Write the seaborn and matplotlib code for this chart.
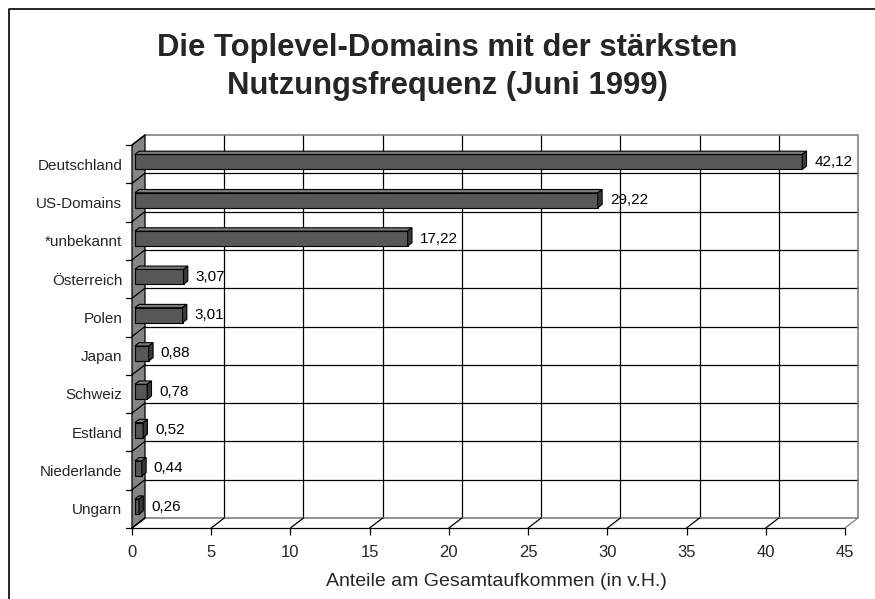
import numpy as np
import pandas as pd
import seaborn as sns
import matplotlib.pyplot as plt
from matplotlib.transforms import Affine2D, IdentityTransform
from matplotlib.patches import Polygon
from matplotlib.lines import Line2D

# data
laender = ["Deutschland", "US-Domains", "*unbekannt", "Österreich", "Polen",
           "Japan", "Schweiz", "Estland", "Niederlande", "Ungarn"]
anteile = [42.12, 29.22, 17.22, 3.07, 3.01, 0.88, 0.78, 0.52, 0.44, 0.26]
x_ticks = [0, 5, 10, 15, 20, 25, 30, 35, 40, 45]

df = pd.DataFrame({"land": laender, "anteil": anteile})

sns.set_theme(style="white")
plt.rcParams["font.family"] = ["Liberation Sans", "DejaVu Sans"]

W, H = 875, 599
fig = plt.figure(figsize=(W / 100, H / 100), dpi=100)
# front plane of the plot area in pixels
x0, x1, ytop, ybot = 132, 845, 145, 528
ax = fig.add_axes([x0 / W, (H - ybot) / H, (x1 - x0) / W, (ybot - ytop) / H])

# 3d depth of the wall in pixels (right, up)
DX, DY = 13, 10
F1, F2 = 0.22, 0.55   # bar front / back depth as fraction of the wall
PIX = IdentityTransform()


def shifted(f):
    return ax.transData + Affine2D().translate(DX * f, DY * f)


def pix_line(a, b, color="black", lw=0.9, z=3):
    ax.add_line(Line2D([a[0], b[0]], [a[1], b[1]], color=color, lw=lw,
                       transform=PIX, clip_on=False, zorder=z))


sns.barplot(data=df, x="anteil", y="land", orient="h", width=0.39,
            color="#575757", edgecolor="black", linewidth=0.8, ax=ax,
            zorder=5)
ax.set_xlim(0, 45)
ax.set_ylim(len(laender) - 0.5, -0.5)

back = shifted(1.0)
lo, hi = -0.5, len(laender) - 0.5

# back wall: grid and border
for xt in x_ticks[1:-1]:
    ax.add_line(Line2D([xt, xt], [lo, hi], color="black", lw=0.9,
                       transform=back, clip_on=False, zorder=1))
for yb in np.arange(lo + 1, hi, 1.0):
    ax.add_line(Line2D([0, 45], [yb, yb], color="black", lw=0.9,
                       transform=back, clip_on=False, zorder=1))
ax.add_line(Line2D([0, 45, 45, 0], [lo, lo, hi, hi], color="#808080",
                   lw=1.2, transform=back, clip_on=False, zorder=1))

# left wall
pts_front = ax.transData.transform([(0, lo), (0, hi)])
pts_back = back.transform([(0, hi), (0, lo)])
ax.add_patch(Polygon(np.vstack([pts_front, pts_back]), closed=True,
                     facecolor="#858585", edgecolor="black", lw=0.9,
                     transform=PIX, clip_on=False, zorder=2))
for yb in np.arange(lo, hi + 1, 1.0):
    a = ax.transData.transform((0, yb))
    b = back.transform((0, yb))
    pix_line(a, b)
    pix_line((a[0] - 6, a[1]), a)

# floor: diagonal tick lines
for xt in x_ticks:
    a = ax.transData.transform((xt, hi))
    b = back.transform((xt, hi))
    pix_line(a, b, color="black" if xt < 45 else "#808080")

# 3d bars
for p, v in zip(ax.patches, anteile):
    yb, h = p.get_y(), p.get_height()
    p.set_transform(shifted(F1))
    p.set_clip_on(False)
    f = np.array(shifted(F1).transform([(0, yb), (v, yb)]))
    g = np.array(shifted(F2).transform([(v, yb), (0, yb)]))
    ax.add_patch(Polygon(np.vstack([f, g]), closed=True, transform=PIX,
                         facecolor="#7c7c7c", edgecolor="black", lw=0.8,
                         clip_on=False, zorder=6))
    s1 = np.array(shifted(F1).transform([(v, yb), (v, yb + h)]))
    s2 = np.array(shifted(F2).transform([(v, yb + h), (v, yb)]))
    ax.add_patch(Polygon(np.vstack([s1, s2]), closed=True, transform=PIX,
                         facecolor="#3a3a3a", edgecolor="black", lw=0.8,
                         clip_on=False, zorder=6))
    lbl = ("%.2f" % v).replace(".", ",")
    ax.annotate(lbl, xy=(v, yb + h / 2), xycoords=shifted(F1),
                xytext=(12, 0), textcoords="offset pixels",
                ha="left", va="center", fontsize=11, color="black",
                annotation_clip=False, zorder=7)

# axes styling
for s in ["top", "right", "left"]:
    ax.spines[s].set_visible(False)
ax.spines["bottom"].set_color("black")
ax.spines["bottom"].set_linewidth(0.9)
ax.set_xticks(x_ticks)
ax.set_xticklabels([str(t) for t in x_ticks], fontsize=12)
ax.tick_params(axis="x", direction="out", length=5, width=0.9,
               color="black", pad=7, bottom=True)
ax.tick_params(axis="y", length=0, pad=7, labelsize=11)
ax.set_ylabel("")
ax.set_xlabel("Anteile am Gesamtaufkommen (in v.H.)", fontsize=14)
ax.xaxis.set_label_coords((496 - x0) / (x1 - x0), -(582 - ybot) / (ybot - ytop))
ax.xaxis.label.set_va("center")
ax.patch.set_alpha(0)

fig.text(447 / W, (H - 67) / H,
         "Die Toplevel-Domains mit der stärksten\nNutzungsfrequenz (Juni 1999)",
         ha="center", va="center", fontsize=22.3, fontweight="bold",
         linespacing=1.38)

# outer frame (left and top)
fig.add_artist(Line2D([9 / W, 9 / W, 1], [0, (H - 9) / H, (H - 9) / H],
                      color="black", lw=1.2, transform=fig.transFigure))

fig.savefig("out.png", dpi=100)
